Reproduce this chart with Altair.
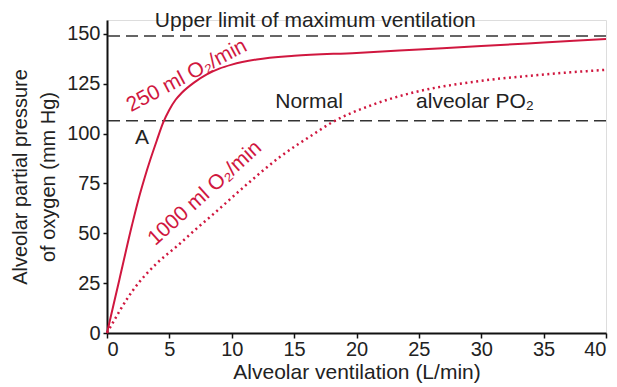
import altair as alt
import pandas as pd

# Data
solid_x = [0, 1, 2, 2.5, 3, 3.5, 4, 4.5, 5, 5.5, 6, 7, 8, 9, 10, 12, 15, 20, 25, 30, 35, 40]
solid_y = [0, 27, 54, 66.5, 77.5, 87.5, 96.7, 105.5, 112, 117, 120.5, 125.7, 129.7, 132.6, 134.6, 137.2, 139.1, 140.5, 142.2, 143.9, 145.7, 147.5]

dotted_x = [0, 2.1, 4.0, 5.6, 7.2, 8.5, 11.2, 13.9, 16.5, 18, 21.3, 24.8, 29.4, 34.7, 40]
dotted_y = [0, 21.6, 35, 43.5, 52.5, 59.5, 74.5, 88.5, 99.5, 105.5, 114.5, 121, 126, 129.5, 132]

ref_levels = [149, 106.5]

x_ticks = [0, 5, 10, 15, 20, 25, 30, 35, 40]
y_ticks = [0, 25, 50, 75, 100, 125, 150]

RED = "#d0173f"
FONT = "Liberation Sans"
FS = 20

solid_df = pd.DataFrame({"x": solid_x, "y": solid_y})
dotted_df = pd.DataFrame({"x": dotted_x, "y": dotted_y})
ref_df = pd.DataFrame({"y": ref_levels})

xs = alt.Scale(domain=[0, 40], nice=False, zero=False)
ys = alt.Scale(domain=[0, 157], nice=False, zero=False)

x_enc = alt.X("x:Q", scale=xs, axis=alt.Axis(
    values=x_ticks, title="Alveolar ventilation (L/min)", grid=False,
    labelFontSize=FS, titleFontSize=21, labelFont=FONT, titleFont=FONT,
    labelColor="#222", titleColor="#222", titleFontWeight="normal",
    domainColor="#111", domainWidth=2, tickColor="#111", tickSize=5, tickWidth=1.5,
    labelPadding=1, titlePadding=2))
y_enc = alt.Y("y:Q", scale=ys, axis=alt.Axis(
    values=y_ticks, title=["Alveolar partial pressure", "of oxygen (mm Hg)"], grid=False,
    labelFontSize=FS, titleFontSize=20, labelFont=FONT, titleFont=FONT,
    labelColor="#222", titleColor="#222", titleFontWeight="normal",
    domainColor="#111", domainWidth=2, tickColor="#111", tickSize=4, tickWidth=1.5,
    labelPadding=3, titlePadding=8, titleLineHeight=28))

solid = alt.Chart(solid_df).mark_line(color=RED, strokeWidth=2, interpolate="monotone").encode(x=x_enc, y=y_enc)
dotted = alt.Chart(dotted_df).mark_line(color=RED, strokeWidth=2.5, strokeDash=[2, 3.5],
                                        interpolate="monotone").encode(x="x:Q", y="y:Q")
refs = alt.Chart(ref_df).mark_rule(color="#333", strokeWidth=1.5, strokeDash=[12, 6]).encode(y="y:Q")


def label(text, x, y, color="#222", angle=0, size=21, baseline="middle"):
    df = pd.DataFrame({"x": [x], "y": [y], "t": [text]})
    return alt.Chart(df).mark_text(font=FONT, fontSize=size, color=color, angle=angle,
                                   align="center", baseline=baseline).encode(
        x="x:Q", y="y:Q", text="t:N")


texts = [
    label("Upper limit of maximum ventilation", 16.7, 153.3, baseline="alphabetic"),
    label("Normal", 16.2, 116),
    label("alveolar PO₂", 29.5, 116),
    label("A", 2.8, 98),
    label("250 ml O₂/min", 6.4, 129, color=RED, angle=332),
    label("1000 ml O₂/min", 7.85, 70, color=RED, angle=318),
]

chart = alt.layer(refs, solid, dotted, *texts).properties(
    width=499, height=313,
    autosize=alt.AutoSizeParams(type="none"),
    padding={"left": 99, "top": 12, "right": 3, "bottom": 54},
).configure_view(stroke=None).configure(background="white")

chart.save("out.html", embed_options={"renderer": "svg", "actions": False})
